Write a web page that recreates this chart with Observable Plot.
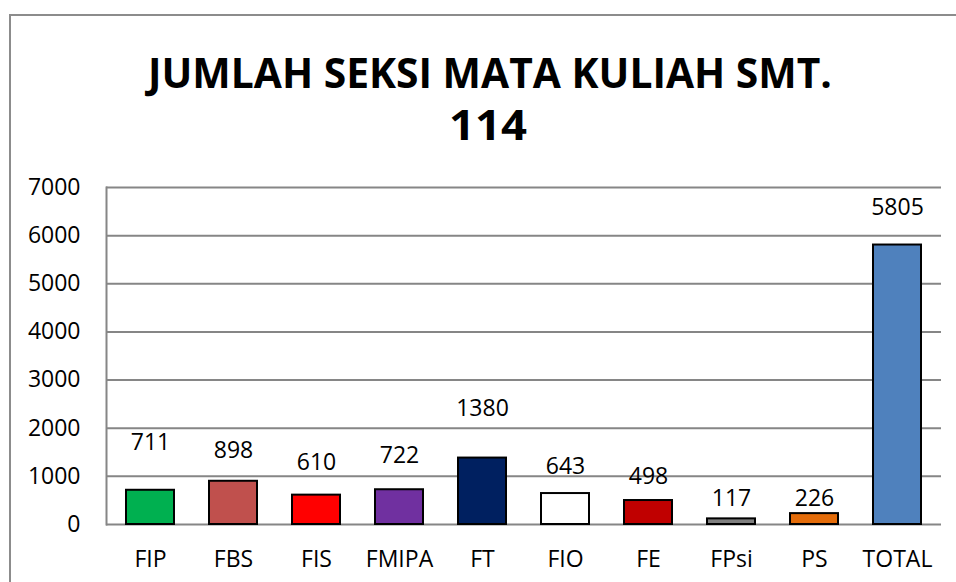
<!DOCTYPE html>
<html>
<head>
<meta charset="utf-8">
<script src="https://cdn.jsdelivr.net/npm/d3@7"></script>
<script src="https://cdn.jsdelivr.net/npm/@observablehq/plot@0.6"></script>
<style>
  html, body { margin: 0; padding: 0; background: #fff; }
  #wrap { position: relative; width: 956px; height: 582px; overflow: hidden; font-family: "Open Sans", sans-serif; }
  #border { position: absolute; left: 9px; top: 14px; width: 960px; height: 600px; border-left: 2px solid #8c8c8c; border-top: 2px solid #8c8c8c; box-sizing: border-box; }
  #title { position: absolute; left: 0; top: 0; }
  #chart { position: absolute; left: 0; top: 0; }
</style>
</head>
<body>
<div id="wrap">
  <div id="border"></div>
  <div id="chart"></div>
  <svg id="title" width="956" height="170" xmlns="http://www.w3.org/2000/svg">
    <text x="490" y="88" text-anchor="middle" font-family="Open Sans" font-weight="bold" font-size="41" textLength="684" lengthAdjust="spacingAndGlyphs">JUMLAH SEKSI MATA KULIAH SMT.</text>
    <text x="488" y="140" text-anchor="middle" font-family="Open Sans" font-weight="bold" font-size="41" textLength="78" lengthAdjust="spacingAndGlyphs">114</text>
  </svg>
</div>
<script>
const categories = ["FIP", "FBS", "FIS", "FMIPA", "FT", "FIO", "FE", "FPsi", "PS", "TOTAL"];
const values = [711, 898, 610, 722, 1380, 643, 498, 117, 226, 5805];
const colors = ["#00B050", "#C0504D", "#FF0000", "#7030A0", "#002060", "#FFFFFF", "#C00000", "#808080", "#E46C0A", "#4F81BD"];
// data-label anchors (in data units) as placed in the reference
const labelAt = [1710, 1544, 1294, 1440, 2416, 1211, 989, 546, 546, 6586];
const yTicks = [0, 1000, 2000, 3000, 4000, 5000, 6000, 7000];

const data = categories.map((c, i) => ({cat: c, value: values[i], color: colors[i], label: labelAt[i]}));

const chart = Plot.plot({
  width: 956,
  height: 582,
  marginLeft: 106,
  marginRight: 15,
  marginTop: 187,
  marginBottom: 58,
  style: {fontFamily: "Open Sans", fontSize: "23px", color: "#000", background: "transparent"},
  x: {type: "band", domain: categories, paddingInner: 0.42, paddingOuter: 0.21, label: null},
  y: {domain: [0, 7000], label: null},
  color: {type: "identity"},
  marks: [
    Plot.ruleY(yTicks, {stroke: "#868686", strokeWidth: 2}),
    Plot.frame({anchor: "left", stroke: "#868686", strokeWidth: 2}),
    Plot.barY(data, {x: "cat", y: "value", fill: "color", stroke: "#000", strokeWidth: 2}),
    Plot.text(data, {x: "cat", y: "label", text: d => String(d.value), fontSize: 23, fill: "#000"}),
    Plot.axisY({ticks: yTicks, tickSize: 0, tickPadding: 26, tickFormat: d => String(d), fontSize: 23}),
    Plot.axisX({tickSize: 0, tickPadding: 26, fontSize: 23})
  ]
});
document.getElementById("chart").appendChild(chart);
</script>
</body>
</html>
